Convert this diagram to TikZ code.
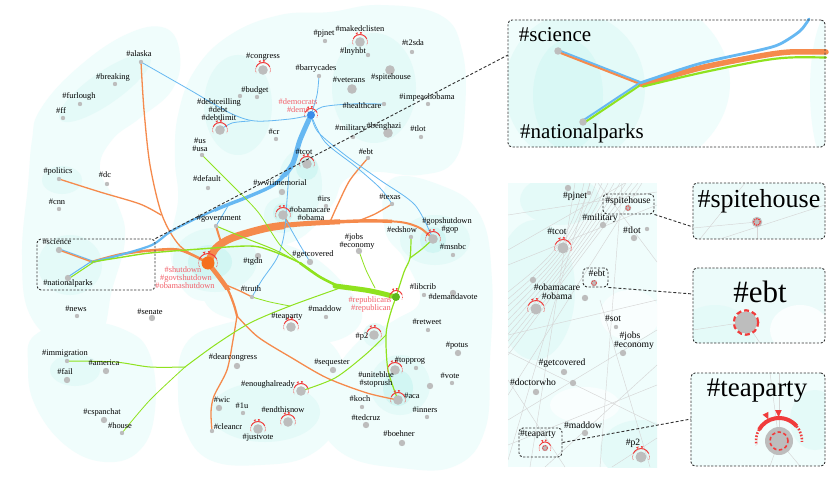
\documentclass[tikz,border=0pt]{standalone}
\usepackage{fontspec}
\setmainfont{Liberation Serif}
\usetikzlibrary{calc}
\pgfdeclarelayer{bg}
\pgfdeclarelayer{edges}
\pgfsetlayers{bg,edges,main}
\definecolor{orng}{HTML}{F58A4C}
\definecolor{orhub}{HTML}{F5701E}
\definecolor{blu}{HTML}{66B8F2}
\definecolor{bluhub}{HTML}{3A8CE8}
\definecolor{grn}{HTML}{8FE21E}
\definecolor{grnhub}{HTML}{5CB81E}
\definecolor{rlab}{HTML}{F2606A}
\definecolor{rarc}{HTML}{F03C3C}
\definecolor{dotg}{HTML}{BDBDBD}
\definecolor{cyA}{HTML}{F0FDFC}
\definecolor{cyB}{HTML}{E4FAF8}
\definecolor{cyC}{HTML}{D2F6F3}
\definecolor{dsh}{HTML}{333333}
\definecolor{gline}{HTML}{D6D6D6}
\tikzset{
  lab/.style={font=\fontsize{8.4}{9}\selectfont, inner sep=0pt, text height=5.1pt, text depth=1.2pt},
  rlab/.style={lab, text=rlab},
  plab/.style={font=\fontsize{9.6}{10}\selectfont, inner sep=0pt, text height=5.8pt, text depth=1.4pt},
  sd/.style={circle, fill=dotg, inner sep=0pt, minimum size=4.4pt},
  md/.style={circle, fill=dotg, inner sep=0pt, minimum size=6.4pt},
  bd/.style={circle, fill=dotg, inner sep=0pt, minimum size=9.6pt},
  pbd/.style={circle, fill=dotg, inner sep=0pt, minimum size=11pt},
  oe/.style={draw=orng, line width=#1, line cap=round, line join=round},
  be/.style={draw=blu, line width=#1, line cap=round, line join=round},
  ge/.style={draw=grn, line width=#1, line cap=round, line join=round},
  dbox/.style={draw=dsh, dash pattern=on 2.2pt off 1.6pt, line width=0.9pt, rounded corners=4pt, inner sep=0pt},
  dlink/.style={draw=dsh, dash pattern=on 3pt off 2pt, line width=0.9pt},
  rdash/.style={draw=rarc, line width=#1, dash pattern=on 1.4pt off 0.9pt},
  ra/.pic={
    \draw[rarc, line width=1pt] (25:#1pt) arc[start angle=25, end angle=155, radius=#1pt];
    \draw[rarc, line width=0.6pt, dash pattern=on 0.7pt off 0.8pt] (155:#1pt) arc[start angle=155, end angle=205, radius=#1pt];
    \draw[rarc, line width=0.6pt, dash pattern=on 0.7pt off 0.8pt] (25:#1pt) arc[start angle=25, end angle=-25, radius=#1pt];
    \fill[rarc] (110:#1pt) -- (103:{#1pt+2.4pt}) -- (117:{#1pt+2.4pt}) -- cycle;
    \fill[rarc] (84:#1pt) -- (77:{#1pt+2.4pt}) -- (91:{#1pt+2.4pt}) -- cycle;
  }
}
\begin{document}
\begin{tikzpicture}[x=1pt,y=-1pt]
\useasboundingbox (0,0) rectangle (830,500);
% ================= BACKGROUND =================
\begin{pgfonlayer}{bg}
\fill[white] (0,0) rectangle (830,500);
\fill[cyA] plot[smooth cycle, tension=0.7] coordinates {(40,110) (75,70) (125,35) (165,28) (180,55) (172,90) (140,118) (112,140) (100,170) (118,205) (125,240) (112,290) (100,335) (65,345) (30,315) (22,255) (28,185) (32,140)};
\fill[cyA] plot[smooth cycle, tension=0.7] coordinates {(178,115) (195,70) (230,35) (280,15) (330,12) (380,5) (440,15) (462,50) (465,110) (455,160) (420,175) (375,172) (345,180) (332,205) (305,235) (272,252) (245,282) (215,300) (185,292) (170,250) (178,200) (175,160)};
\fill[cyA] plot[smooth cycle, tension=0.7] coordinates {(390,180) (440,185) (480,215) (492,280) (490,360) (485,430) (455,466) (400,468) (345,455) (320,420) (330,380) (360,340) (395,320) (420,300) (405,260) (385,230)};
\fill[cyA] plot[smooth cycle, tension=0.7] coordinates {(185,345) (220,325) (270,320) (320,335) (345,370) (340,420) (310,455) (260,465) (210,460) (185,430) (178,390)};
\fill[cyA] plot[smooth cycle, tension=0.7] coordinates {(35,335) (80,322) (125,330) (150,355) (155,410) (140,450) (105,462) (65,445) (35,405) (28,365)};
\fill[cyA] plot[smooth cycle, tension=0.7] coordinates {(200,250) (250,240) (300,250) (340,280) (362,318) (330,342) (280,332) (240,322) (205,302)};
\fill[cyB, rotate around={35:(105,88)}] (105,88) ellipse[x radius=55pt, y radius=16pt];
\fill[cyB] (70,265) ellipse[x radius=32pt, y radius=30pt];
\fill[cyB] (62,180) ellipse[x radius=20pt, y radius=14pt];
\fill[cyB] (215,260) ellipse[x radius=42pt, y radius=32pt];
\fill[cyB] (238,105) ellipse[x radius=34pt, y radius=50pt];
\fill[cyB] (300,185) ellipse[x radius=22pt, y radius=35pt];
\fill[cyB] (282,215) ellipse[x radius=18pt, y radius=18pt];
\fill[cyB] (374,88) ellipse[x radius=42pt, y radius=55pt];
\fill[cyB] (435,240) ellipse[x radius=35pt, y radius=25pt];
\fill[cyB] (400,385) ellipse[x radius=30pt, y radius=30pt];
\fill[cyB] (375,335) ellipse[x radius=12pt, y radius=12pt];
\fill[cyB] (75,370) ellipse[x radius=25pt, y radius=16pt];
\fill[cyB] (265,412) ellipse[x radius=55pt, y radius=30pt];
\fill[cyC] (210,262) ellipse[x radius=22pt, y radius=17pt];
\fill[cyC] (283,213) ellipse[x radius=10pt, y radius=10pt];
\fill[cyC] (433,240) ellipse[x radius=13pt, y radius=13pt];
\fill[cyC] (398,388) ellipse[x radius=15pt, y radius=18pt];
\fill[cyC] (307,168) ellipse[x radius=11pt, y radius=12pt];
% ---- inset 1 background
\begin{scope}
\clip[rounded corners=4pt] (508,20) rectangle (825,147);
\fill[cyA] (600,83) ellipse[x radius=130pt, y radius=100pt];
\fill[cyB] (575,88) ellipse[x radius=70pt, y radius=75pt];
\fill[cyC!60!cyB] (568,95) ellipse[x radius=35pt, y radius=55pt];
\fill[cyA] (832,90) ellipse[x radius=22pt, y radius=80pt];
\end{scope}
% ---- middle panel background
\begin{scope}
\clip (508,183) rectangle (657,467);
\fill[cyA] (508,183) rectangle (657,467);
\fill[cyB] (535,290) ellipse[x radius=40pt, y radius=70pt];
\fill[cyB] (640,450) ellipse[x radius=40pt, y radius=30pt];
\fill[cyB] (560,200) ellipse[x radius=40pt, y radius=25pt];
\fill[white!60!cyA] (630,315) ellipse[x radius=30pt, y radius=25pt];
\fill[white!60!cyA] (585,405) ellipse[x radius=35pt, y radius=18pt];
\foreach \i in {0,...,9} {
  \draw[gline, line width=0.45pt] (584+6*\i,183) .. controls (570+2*\i,245) and (545,262+5*\i) .. (508,292+7*\i);
}
\foreach \a/\b/\c/\d in {508/215/657/192, 508/250/625/183, 530/467/575/183, 508/420/657/330, 508/352/657/425, 545/467/657/365, 600/467/622/183, 508/445/657/385, 565/467/508/380, 612/467/657/438, 508/335/657/300, 508/395/642/183, 598/183/657/262, 508/460/590/183, 650/467/600/300, 657/205/508/265} {
  \draw[gline, line width=0.45pt] (\a,\b) -- (\c,\d);
}
\end{scope}
% ---- inset 2,3,4 backgrounds
\begin{scope}
\clip[rounded corners=4pt] (693,183) rectangle (825,239);
\fill[cyB!70!white] (693,183) rectangle (825,239);
\draw[gline, line width=0.45pt] (700,239) -- (745,183);
\draw[gline, line width=0.45pt] (720,239) -- (825,205);
\draw[gline, line width=0.45pt] (757,239) -- (757,222);
\draw[gline, line width=0.45pt] (693,228) -- (757,222);
\end{scope}
\begin{scope}
\clip[rounded corners=4pt] (693,268) rectangle (825,343);
\fill[cyB!70!white] (693,268) rectangle (825,343);
\fill[cyB] (715,340) ellipse[x radius=40pt, y radius=35pt];
\fill[white!70!cyA] (800,330) ellipse[x radius=30pt, y radius=25pt];
\draw[gline, line width=0.45pt] (693,330) -- (746,322);
\draw[gline, line width=0.45pt] (746,322) -- (760,343);
\end{scope}
\begin{scope}
\clip[rounded corners=4pt] (691,373) rectangle (825,466);
\fill[cyA] (691,373) rectangle (825,466);
\fill[cyB] (815,420) ellipse[x radius=25pt, y radius=30pt];
\draw[gline, line width=0.45pt] (779,373) -- (779,441);
\draw[gline, line width=0.45pt] (770,373) -- (779,441);
\draw[gline, line width=0.45pt] (779,441) -- (800,466);
\draw[gline, line width=0.45pt] (779,441) -- (770,466);
\end{scope}
\end{pgfonlayer}

% ================= MAIN MAP NODES =================
\coordinate (jsci) at (92,262);
\node[sd] (alaska) at (141,62) {};
\node[sd] (breaking) at (115,84) {};
\node[sd] (furlough) at (80,104) {};
\node[sd] (ff) at (63,118) {};
\node[bd] (debtlimit) at (220,130) {};
\node[sd] (usa) at (202,155) {};
\node[sd] (pjnet) at (325,41) {};
\node[bd] (makedclisten) at (360,42) {};
\node[sd] (tsda) at (412,52) {};
\node[sd] (lnyhbt) at (368,55) {};
\node[bd] (congress) at (263,70) {};
\node[sd] (barrycades) at (319,76) {};
\node[bd] (veterans) at (352,89) {};
\node[bd] (spitehouse) at (390,70) {};
\node[sd] (impeach) at (428,104) {};
\node[sd] (budgetA) at (240,96) {};
\node[sd] (budget) at (257,97) {};
\node[sd] (healthcare) at (384,104) {};
\node[circle, fill=bluhub, inner sep=0pt, minimum size=8pt] (dem) at (311,115) {};
\node[sd] (cr) at (276,139) {};
\node[sd] (military) at (353,137) {};
\node[bd] (benghazi) at (388,133) {};
\node[sd] (tlot) at (421,137) {};
\node[sd] (ebt) at (368,158) {};
\node[bd] (tcot) at (307,164) {};
\node[sd] (politics) at (59,179) {};
\node[sd] (dc) at (107,184) {};
\node[sd] (default) at (208,188) {};
\node[sd] (cnn) at (59,209) {};
\node[sd] (government) at (216,226) {};
\node[md] (science) at (59,250) {};
\node[md] (natparks) at (68,278) {};
\node[circle, fill=orhub, inner sep=0pt, minimum size=13pt] (hub) at (208,263) {};
\node[sd] (news) at (77,316) {};
\node[md] (senate) at (152,318) {};
\node[md] (wwii) at (282,192) {};
\node[sd] (irs) at (326,206) {};
\node[sd] (texas) at (392,204) {};
\node[bd] (obamacare) at (283,215) {};
\node[bd] (gop) at (433,239) {};
\node[sd] (edshow) at (411,237) {};
\node[md] (jobs) at (359,251) {};
\node[sd] (msnbc) at (453,255) {};
\node[md] (getcovered) at (310,262) {};
\node[md] (tgdn) at (258,256) {};
\node[sd] (truth) at (252,297) {};
\node[sd] (libcrib) at (424,295) {};
\node[md] (demandavote) at (453,293) {};
\node[circle, fill=grnhub, inner sep=0pt, minimum size=8pt] (rep) at (396,297) {};
\node[sd] (maddow) at (326,317) {};
\node[bd] (teaparty) at (291,327) {};
\node[sd] (retweet) at (428,330) {};
\node[sd] (immigration) at (67,361) {};
\node[md] (america) at (106,371) {};
\node[md] (fail) at (67,380) {};
\node[md] (cspanchat) at (104,420) {};
\node[sd] (house) at (122,433) {};
\node[md] (dearcongress) at (237,366) {};
\node[md] (wic) at (219,408) {};
\node[sd] (oneu) at (243,413) {};
\node[sd] (cleancr) at (212,431) {};
\node[bd] (justvote) at (258,429) {};
\node[bd] (endthisnow) at (288,422) {};
\node[bd] (enough) at (301,391) {};
\node[md] (sequester) at (333,370) {};
\node[bd] (p2) at (374,335) {};
\node[md] (potus) at (458,353) {};
\node[sd] (topprogS) at (416,368) {};
\node[bd] (topprog) at (395,370) {};
\node[sd] (vote) at (452,383) {};
\node[md] (voteB) at (430,386) {};
\node[bd] (aca) at (398,400) {};
\node[sd] (koch) at (362,407) {};
\node[sd] (inners) at (427,417) {};
\node[md] (tedcruz) at (366,425) {};
\node[md] (boehner) at (402,443) {};

% red arcs
\pic at (debtlimit) {ra=7.5};
\pic at (congress) {ra=7.5};
\pic at (makedclisten) {ra=7.5};
\pic at (dem) {ra=6.5};
\pic at (tcot) {ra=7.5};
\pic at (obamacare) {ra=7.5};
\pic at (hub) {ra=9.5};
\pic at (gop) {ra=7.5};
\pic at (rep) {ra=6.5};
\pic at (teaparty) {ra=7.5};
\pic at (p2) {ra=7.5};
\pic at (topprog) {ra=7.5};
\pic at (aca) {ra=7.5};
\pic at (enough) {ra=7.5};
\pic at (endthisnow) {ra=7.5};
\pic at (justvote) {ra=7.5};

% labels
\node[lab] (Lalaska) at (139,55) {\#alaska};
\node[lab] (Lbreaking) at (113,78) {\#breaking};
\node[lab] (Lfurlough) at (79,97) {\#furlough};
\node[lab] (Lff) at (61,112) {\#ff};
\node[lab] (Ldebtc) at (219,102.7) {\#debtceilling};
\node[lab] (Ldebt) at (218,110.5) {\#debt};
\node[lab] (Ldebtl) at (219,118.3) {\#debtlimit};
\node[lab] (Lus) at (200,141.4) {\#us};
\node[lab] (Lusa) at (200,149.2) {\#usa};
\node[lab] (Lpjnet) at (324,34) {\#pjnet};
\node[lab] (Lmaked) at (360,30) {\#makedclisten};
\node[lab] (Ltsda) at (413,44) {\#t2sda};
\node[lab] (Llnyhbt) at (353,52) {\#lnyhbt};
\node[lab] (Lcongress) at (263,57) {\#congress};
\node[lab] (Lbarry) at (316,69) {\#barrycades};
\node[lab] (Lveterans) at (349,81) {\#veterans};
\node[lab] (Lspite) at (391,78) {\#spitehouse};
\node[lab] (Limpeach) at (427,98) {\#impeachobama};
\node[lab] (Lbudget) at (255,91) {\#budget};
\node[lab] (Lhealth) at (362,107) {\#healthcare};
\node[rlab] (Ldemocrats) at (298,102.4) {\#democrats};
\node[rlab] (Ldems) at (298,110.2) {\#dems};
\node[lab] (Lcr) at (274,133) {\#cr};
\node[lab] (Lmilitary) at (350.5,129) {\#military};
\node[lab] (Lbenghazi) at (384,127) {\#benghazi};
\node[lab] (Ltlot) at (418,130) {\#tlot};
\node[lab] (Lebt) at (366,153) {\#ebt};
\node[lab] (Ltcot) at (304,153) {\#tcot};
\node[lab] (Lpolitics) at (58,172) {\#politics};
\node[lab] (Ldc) at (105,176) {\#dc};
\node[lab] (Ldefault) at (207,180) {\#default};
\node[lab] (Lcnn) at (57,203) {\#cnn};
\node[lab] (Lgov) at (219,219) {\#government};
\node[lab] (Lscience) at (57,243) {\#science};
\node[lab] (Lnatparks) at (68,284) {\#nationalparks};
\node[rlab] (Lshutdown) at (183,270.7) {\#shutdown};
\node[rlab] (Lgovt) at (186,278.5) {\#govtshutdown};
\node[rlab] (Lobamashut) at (185,286.3) {\#obamashutdown};
\node[lab] (Lnews) at (76,310) {\#news};
\node[lab] (Lsenate) at (150,313) {\#senate};
\node[lab] (Lwwii) at (280,184) {\#wwiimemorial};
\node[lab] (Lirs) at (324,200) {\#irs};
\node[lab] (Ltexas) at (390,198) {\#texas};
\node[lab] (Lobamacare) at (310,210.4) {\#obamacare};
\node[lab] (Lobama) at (311,218.2) {\#obama};
\node[lab] (Lgopshut) at (447,221.4) {\#gopshutdown};
\node[lab] (Lgop) at (450,229.2) {\#gop};
\node[lab] (Ledshow) at (402,231) {\#edshow};
\node[lab] (Ljobs) at (354,237.4) {\#jobs};
\node[lab] (Leconomy) at (357,245.2) {\#economy};
\node[lab] (Lmsnbc) at (453,248) {\#msnbc};
\node[lab] (Lgetcovered) at (313,255) {\#getcovered};
\node[lab] (Ltgdn) at (253,262) {\#tgdn};
\node[lab] (Ltruth) at (251,290) {\#truth};
\node[lab] (Llibcrib) at (423,288) {\#libcrib};
\node[lab] (Ldemandavote) at (453,298) {\#demandavote};
\node[rlab] (Lrepublicans) at (370,300.4) {\#republicans};
\node[rlab] (Lrepublican) at (371,308.2) {\#republican};
\node[lab] (Lmaddow) at (325,310) {\#maddow};
\node[lab] (Lteaparty) at (287,317) {\#teaparty};
\node[lab] (Lretweet) at (427,323) {\#retweet};
\node[lab] (Limmigration) at (65,354) {\#immigration};
\node[lab] (Lamerica) at (104,364) {\#america};
\node[lab] (Lfail) at (65,373) {\#fail};
\node[lab] (Lcspan) at (102,413) {\#cspanchat};
\node[lab] (Lhouse) at (120,427) {\#house};
\node[lab] (Ldearcongress) at (233,358) {\#dearcongress};
\node[lab] (Lwic) at (222,401) {\#wic};
\node[lab] (Loneu) at (242,407) {\#1u};
\node[lab] (Lcleancr) at (228,428) {\#cleancr};
\node[lab] (Ljustvote) at (258,438) {\#justvote};
\node[lab] (Lendthisnow) at (283,411) {\#endthisnow};
\node[lab] (Lenough) at (268,385) {\#enoughalready};
\node[lab] (Lsequester) at (332,363) {\#sequester};
\node[lab] (Lp2) at (362,337) {\#p2};
\node[lab] (Lpotus) at (457,346) {\#potus};
\node[lab] (Ltopprog) at (410,361) {\#topprog};
\node[lab] (Luniteblue) at (376,375.4) {\#uniteblue};
\node[lab] (Lstoprush) at (376,383.2) {\#stoprush};
\node[lab] (Lvote) at (450,377) {\#vote};
\node[lab] (Laca) at (412,397) {\#aca};
\node[lab] (Lkoch) at (360,400) {\#koch};
\node[lab] (Linners) at (425,411) {\#inners};
\node[lab] (Ltedcruz) at (366,419) {\#tedcruz};
\node[lab] (Lboehner) at (399,435) {\#boehner};

% ================= EDGES =================
\begin{pgfonlayer}{edges}
% --- orange
\draw[oe=1.3] plot[smooth] coordinates {(alaska.center) (144,110) (150,165) (162,215) (180,246) (hub.center)};
\draw[oe=1.3] plot[smooth] coordinates {(politics.center) (100,192) (140,204) (161,215)};
\draw[be=1] ($(science.center)+(0,-1.2)$) -- ($(jsci)+(0,-1.2)$);
\draw[oe=1.4] (science.center) -- (jsci);
\draw[oe=2.6] plot[smooth] coordinates {(jsci) (120,254.5) (150,250.5) (180,250) (hub.center)};
\draw[oe=2] plot[smooth] coordinates {(government.center) (219,236) (222,245)};
\draw[oe=2] plot[smooth] coordinates {(hub.center) (216,248) (232,238) (267,228) (300,224) (360,221) (400,222) (420,228) (gop.center)};
\begin{scope}
\clip (150,150) rectangle (392,300);
\draw[oe=3.4] plot[smooth] coordinates {(hub.center) (216,248) (232,238) (267,228) (300,224) (360,221) (400,222) (420,228) (gop.center)};
\end{scope}
\begin{scope}
\clip (150,150) rectangle (340,300);
\draw[oe=5] plot[smooth] coordinates {(hub.center) (216,248) (232,238) (267,228) (300,224) (360,221) (400,222) (420,228) (gop.center)};
\end{scope}
\begin{scope}
\clip (150,150) rectangle (285,300);
\draw[oe=7.5] plot[smooth] coordinates {(hub.center) (216,248) (232,238) (267,228) (300,224) (360,221) (400,222) (420,228) (gop.center)};
\end{scope}
\draw[oe=1.6] plot[smooth] coordinates {(obamacare.center) (287,221) (290,226)};
\draw[oe=1.3] plot[smooth] coordinates {(ebt.center) (350,180) (338,204) (330,222)};
\draw[oe=1.3] plot[smooth] coordinates {(texas.center) (375,214) (358,221)};
\draw[oe=2.2] plot[smooth] coordinates {(hub.center) (219,277) (228,290) (234,305) (237,316)};
\begin{scope}
\clip (190,250) rectangle (240,289);
\draw[oe=4.6] plot[smooth] coordinates {(hub.center) (219,277) (228,290) (234,305) (237,316)};
\end{scope}
\draw[oe=1.3] plot[smooth] coordinates {(226,285) (240,291) (truth.center)};
\draw[oe=1.3] plot[smooth] coordinates {(237,316) (233,340) (227,370) (214,396) (211,412) (cleancr.center)};
\draw[oe=1.3] plot[smooth] coordinates {(237,316) (258,337) (292,358) (327,378) (367,393) (aca.center)};
% --- blue
\draw[be=2.2] plot[smooth] coordinates {(dem.center) (300,140) (292,165) (275,184) (250,196) (222,207) (195,219) (170,232) (152,245) (120,255) (jsci)};
\begin{scope}
\clip (215,100) rectangle (330,260);
\draw[be=3.4] plot[smooth] coordinates {(dem.center) (300,140) (292,165) (275,184) (250,196) (222,207) (195,219) (170,232) (152,245) (120,255) (jsci)};
\end{scope}
\begin{scope}
\clip (278,100) rectangle (330,176);
\draw[be=5] plot[smooth] coordinates {(dem.center) (300,140) (292,165) (275,184) (250,196) (222,207) (195,219) (170,232) (152,245) (120,255) (jsci)};
\end{scope}
\draw[be=0.8] plot[smooth] coordinates {(289,172) (287,200) (284,235) (277,258) (262,280) (truth.center)};
\draw[be=0.8] plot[smooth] coordinates {(obamacare.center) (297,240) (getcovered.center)};
\draw[be=0.8] (government.center) -- (228,206);
\draw[be=0.8] plot[smooth] coordinates {(alaska.center) (190,90) (230,113) (255,121) (290,119) (dem.center)};
\draw[be=0.8] plot[smooth] coordinates {(debtlimit.center) (232,123) (250,121)};
\draw[be=0.8] plot[smooth] coordinates {(dem.center) (317,95) (barrycades.center)};
\draw[be=0.8] plot[smooth] coordinates {(dem.center) (322,107) (350,104) (healthcare.center)};
\draw[be=0.8] plot[smooth] coordinates {(dem.center) (318,132) (345,155) (380,180) (415,205) (gop.center)};
\draw[be=0.8] plot[smooth] coordinates {(dem.center) (325,142) (355,166) (380,188) (texas.center)};
\draw[be=1.1] ($(natparks.center)+(-0.7,-0.7)$) -- ($(jsci)+(-0.5,-0.7)$);
% --- green
\draw[ge=1.1] ($(natparks.center)+(0.7,0.7)$) -- ($(jsci)+(0.7,0.7)$);
\draw[ge=1.4] plot[smooth] coordinates {(jsci) (120,257.5) (150,253) (200,249) (250,246) (272,251) (300,263) (320,277) (340,287)};
\draw[ge=2.6] plot[smooth] coordinates {(300,263) (320,277) (340,287)};
\draw[ge=5] plot[smooth] coordinates {(335,286) (365,290) (380,293) (rep.center)};
\draw[ge=0.8] plot[smooth] coordinates {(usa.center) (230,183) (258,212) (280,245) (300,263)};
\draw[ge=1] plot[smooth] coordinates {(government.center) (245,238) (275,250) (300,263)};
\draw[ge=0.8] plot[smooth] coordinates {(jobs.center) (366,270) (375,288)};
\draw[ge=1.2] plot[smooth] coordinates {(rep.center) (404,272) (410,258) (edshow.center)};
\draw[ge=1.2] plot[smooth] coordinates {(410,258) (422,249) (gop.center)};
\draw[ge=1.2] plot[smooth] coordinates {(rep.center) (390,315) (386,335) (388,370) (aca.center)};
\draw[ge=1] plot[smooth] coordinates {(386,335) (365,355) (335,378) (enough.center)};
\draw[ge=1] plot[smooth] coordinates {(340,288) (290,306) (250,323) (215,345) (185,367)};
\draw[ge=0.8] plot[smooth] coordinates {(truth.center) (270,302) (290,306)};
\draw[ge=1] plot[smooth] coordinates {(185,367) (150,367) (115,362) (immigration.center)};
\draw[ge=0.8] plot[smooth] coordinates {(185,367) (150,400) (house.center)};
\end{pgfonlayer}

% ================= SCIENCE BOX + INSET 1 =================
\node[dbox, minimum width=118pt, minimum height=51pt] (scibox) at (96,264.5) {};
\node[dbox, minimum width=317pt, minimum height=127pt] (bigsci) at (666.5,83.5) {};
\coordinate (sciIn) at (508,55);
\draw[dlink] (scibox.north east) -- (sciIn);
\coordinate (ij) at (640,83);
\node[circle, fill=dotg, minimum size=7.5pt, inner sep=0pt] (isci) at (558,51) {};
\node[circle, fill=dotg, minimum size=7.5pt, inner sep=0pt] (inp) at (583,122) {};
\begin{pgfonlayer}{edges}
\draw[be=2] ($(isci.center)+(0,-1)$) -- ($(ij)+(0,-1)$);
\draw[oe=2] ($(isci.center)+(0,1)$) -- ($(ij)+(0,1)$);
\draw[be=2] ($(inp.center)+(-0.9,-0.9)$) -- ($(ij)+(-0.5,0)$);
\draw[ge=2] ($(inp.center)+(0.9,0.9)$) -- ($(ij)+(1,1.6)$);
\draw[oe=5.5] plot[smooth] coordinates {(642,84.5) (700,68) (760,56) (790,52) (826,52)};
\draw[be=2.8] plot[smooth] coordinates {(ij) (700,63.5) (760,50) (780,44) (800,31) (809,19)};
\draw[ge=2.2] plot[smooth] coordinates {(643,86.5) (700,73) (760,61) (790,57.5) (826,57.5)};
\end{pgfonlayer}
\node[font=\fontsize{21}{23}\selectfont, inner sep=0pt] (bigsciL) at (555,35) {\#science};
\node[font=\fontsize{21}{23}\selectfont, inner sep=0pt] (bignpL) at (582,133) {\#nationalparks};

% ================= MIDDLE PANEL =================
\node[md] (Ptop) at (568,188) {};
\node[sd] (Ppjnet) at (589,193) {};
\node[plab] (LPpjnet) at (575,196) {\#pjnet};
\node[plab] (LPspite) at (628,201) {\#spitehouse};
\node[md] (Pspite) at (628,208) {};
\draw[rdash=0.8pt] (Pspite.center) circle[radius=2.2pt];
\node[dbox, minimum width=51pt, minimum height=20pt] (spbox) at (628.5,204) {};
\node[plab] (LPmil) at (600,218) {\#military};
\node[md] (Pmil) at (603,225) {};
\node[plab] (LPtlot) at (632,231) {\#tlot};
\node[md] (Ptlot) at (634,238) {};
\node[sd] (PtlotB) at (647,229) {};
\node[plab] (LPtcot) at (557,232) {\#tcot};
\node[pbd] (Ptcot) at (563,248) {};
\pic at (Ptcot) {ra=8.5};
\node[plab] (LPebt) at (597,274) {\#ebt};
\node[md] (Pebt) at (594,283) {};
\draw[rdash=0.8pt] (Pebt.center) circle[radius=2.4pt];
\node[dbox, minimum width=25pt, minimum height=19pt] (ebbox) at (595.5,277.5) {};
\node[md] (Pdot) at (533,280) {};
\node[plab] (LPobamacare) at (557,288.5) {\#obamacare};
\node[plab] (LPobama) at (557,297.3) {\#obama};
\node[pbd] (Pobamacare) at (536,309) {};
\pic at (Pobamacare) {ra=8.5};
\node[md] (Pobama) at (585,298) {};
\node[plab] (LPsot) at (613,319) {\#sot};
\node[sd] (Psot) at (616,327) {};
\node[plab] (LPjobs) at (630,336.5) {\#jobs};
\node[plab] (LPeconomy) at (634,345.3) {\#economy};
\node[md] (Pjobs) at (623,353) {};
\node[plab] (LPgetc) at (562,363) {\#getcovered};
\node[md] (Pgetc) at (564,372) {};
\node[md] (PgetcB) at (573,383) {};
\node[plab] (LPdoctor) at (533,383) {\#doctorwho};
\node[md] (Pdoctor) at (536,392) {};
\node[plab] (LPmaddow) at (583,426) {\#maddow};
\node[md] (Pmaddow) at (585,433) {};
\node[plab] (LPtea) at (538,434) {\#teaparty};
\node[md] (Ptea) at (545,448) {};
\draw[rdash=0.8pt] (Ptea.center) circle[radius=2.4pt];
\pic at (Ptea) {ra=6};
\node[dbox, minimum width=43pt, minimum height=29pt] (tpbox) at (540.5,442.5) {};
\node[plab] (LPp2) at (633,443) {\#p2};
\node[pbd] (Pp2) at (641,457) {};
\pic at (Pp2) {ra=8.5};

% ================= INSETS 2-4 =================
\node[dbox, minimum width=132pt, minimum height=56pt] (bigsp) at (759,211) {};
\node[font=\fontsize{26}{28}\selectfont, inner sep=0pt] (bigspL) at (759,201) {\#spitehouse};
\node[circle, fill=dotg, minimum size=10.5pt, inner sep=0pt] (bigspD) at (757,222) {};
\draw[rdash=1.1pt] (bigspD.center) circle[radius=3.3pt];
\coordinate (spIn) at (693,227);
\draw[dlink] (spbox.south east) -- (spIn);

\node[dbox, minimum width=132pt, minimum height=75pt] (bigeb) at (759,305.5) {};
\node[font=\fontsize{31}{33}\selectfont, inner sep=0pt] (bigebL) at (760,292) {\#ebt};
\node[circle, fill=dotg, minimum size=22pt, inner sep=0pt] (bigebD) at (746,322.5) {};
\draw[draw=rarc, line width=2.2pt, dash pattern=on 5pt off 3pt] (bigebD.center) circle[radius=12.2pt];
\coordinate (ebIn) at (693,294);
\draw[dlink] (ebbox.south east) -- (ebIn);

\node[dbox, minimum width=134pt, minimum height=93pt] (bigtp) at (758,419.5) {};
\node[font=\fontsize{27}{29}\selectfont, inner sep=0pt] (bigtpL) at (757,391) {\#teaparty};
\node[circle, fill=dotg, minimum size=28pt, inner sep=0pt] (bigtpD) at (779,441) {};
\draw[draw=rarc, line width=1.6pt, dash pattern=on 3.5pt off 2.5pt] (bigtpD.center) circle[radius=9pt];
\draw[rarc, line width=4pt] ([shift={(40:23pt)}]bigtpD.center) arc[start angle=40, end angle=150, radius=23pt];
\draw[rarc, line width=2.6pt, dash pattern=on 1.6pt off 1.6pt] ([shift={(150:23pt)}]bigtpD.center) arc[start angle=150, end angle=190, radius=23pt];
\draw[rarc, line width=2.6pt, dash pattern=on 1.6pt off 1.6pt] ([shift={(40:23pt)}]bigtpD.center) arc[start angle=40, end angle=-2, radius=23pt];
\fill[rarc] ([shift={(116:24pt)}]bigtpD.center) -- ([shift={(110:31pt)}]bigtpD.center) -- ([shift={(122:31pt)}]bigtpD.center) -- cycle;
\fill[rarc] ([shift={(91:24pt)}]bigtpD.center) -- ([shift={(85:31pt)}]bigtpD.center) -- ([shift={(97:31pt)}]bigtpD.center) -- cycle;
\coordinate (tpIn) at (691,419);
\draw[dlink] (tpbox.east) -- (tpIn);
\end{tikzpicture}
\end{document}
